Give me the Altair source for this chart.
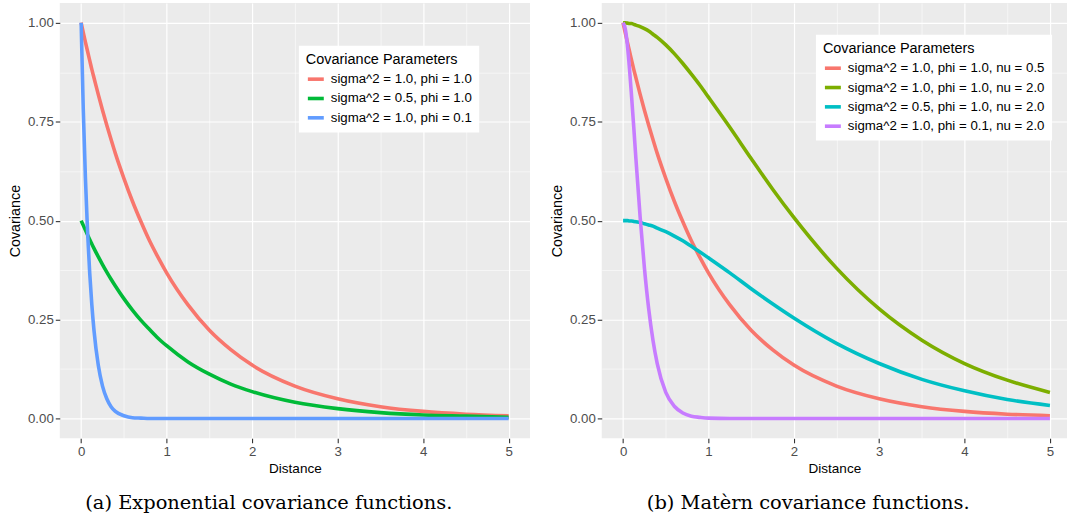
import altair as alt
import pandas as pd

distance = [0, 0.025, 0.05, 0.075, 0.1, 0.125, 0.15, 0.2, 0.25, 0.3, 0.35, 0.4,
            0.5, 0.6, 0.7, 0.8, 0.9, 1.0, 1.25, 1.5, 1.75, 2.0, 2.5, 3.0, 3.5,
            4.0, 4.5, 5.0]

# Exponential covariance panel
exp_labels = ["sigma^2 = 1.0, phi = 1.0",
              "sigma^2 = 0.5, phi = 1.0",
              "sigma^2 = 1.0, phi = 0.1"]
exp_colors = ["#F8766D", "#00BA38", "#619CFF"]
exp_s1_p1 = [1.000, 0.975, 0.951, 0.928, 0.905, 0.882, 0.861, 0.819, 0.779, 0.741,
             0.705, 0.670, 0.607, 0.549, 0.497, 0.449, 0.407, 0.368, 0.287, 0.223,
             0.174, 0.135, 0.082, 0.050, 0.030, 0.018, 0.011, 0.007]
exp_s05_p1 = [0.500, 0.488, 0.476, 0.464, 0.452, 0.441, 0.430, 0.409, 0.389, 0.370,
              0.352, 0.335, 0.303, 0.274, 0.248, 0.225, 0.203, 0.184, 0.143, 0.112,
              0.087, 0.068, 0.041, 0.025, 0.015, 0.009, 0.006, 0.003]
exp_s1_p01 = [1.000, 0.779, 0.607, 0.472, 0.368, 0.287, 0.223, 0.135, 0.082, 0.050,
              0.030, 0.018, 0.007, 0.002, 0.001, 0.000, 0.000, 0.000, 0.000, 0.000,
              0.000, 0.000, 0.000, 0.000, 0.000, 0.000, 0.000, 0.000]

# Matern covariance panel
mat_labels = ["sigma^2 = 1.0, phi = 1.0, nu = 0.5",
              "sigma^2 = 1.0, phi = 1.0, nu = 2.0",
              "sigma^2 = 0.5, phi = 1.0, nu = 2.0",
              "sigma^2 = 1.0, phi = 0.1, nu = 2.0"]
mat_colors = ["#F8766D", "#7CAE00", "#00BFC4", "#C77CFF"]
mat_s1_p1_n05 = exp_s1_p1
mat_s1_p1_n2 = [1.000, 1.000, 0.999, 0.998, 0.998, 0.996, 0.994, 0.990, 0.985, 0.979,
                0.971, 0.963, 0.944, 0.922, 0.897, 0.870, 0.842, 0.812, 0.736, 0.657,
                0.580, 0.508, 0.380, 0.277, 0.198, 0.139, 0.097, 0.066]
mat_s05_p1_n2 = [0.500, 0.500, 0.500, 0.499, 0.499, 0.498, 0.497, 0.495, 0.492, 0.489,
                 0.486, 0.481, 0.472, 0.461, 0.449, 0.435, 0.421, 0.406, 0.368, 0.328,
                 0.290, 0.254, 0.190, 0.139, 0.099, 0.070, 0.048, 0.033]
mat_s1_p01_n2 = [1.000, 0.985, 0.944, 0.884, 0.812, 0.736, 0.657, 0.508, 0.380, 0.277,
                 0.198, 0.139, 0.066, 0.031, 0.014, 0.006, 0.003, 0.001, 0.000, 0.000,
                 0.000, 0.000, 0.000, 0.000, 0.000, 0.000, 0.000, 0.000]

x_tick_values = [0, 0.5, 1, 1.5, 2, 2.5, 3, 3.5, 4, 4.5, 5]
y_tick_values = [0, 0.125, 0.25, 0.375, 0.5, 0.625, 0.75, 0.875, 1.0]

captions = ["(a)  Exponential covariance functions.",
            "(b)  Matèrn covariance functions."]


def long_frame(labels, series):
    rows = []
    for lab, vals in zip(labels, series):
        for d, v in zip(distance, vals):
            rows.append({"Distance": d, "Covariance": v, "Parameters": lab})
    return pd.DataFrame(rows)


df_exp = long_frame(exp_labels, [exp_s1_p1, exp_s05_p1, exp_s1_p01])
df_mat = long_frame(mat_labels, [mat_s1_p1_n05, mat_s1_p1_n2, mat_s05_p1_n2, mat_s1_p01_n2])

x_major = "abs(datum.value - round(datum.value)) < 0.001"
y_major = "abs(datum.value*4 - round(datum.value*4)) < 0.001"


def x_axis():
    return alt.Axis(
        values=x_tick_values,
        labelExpr="%s ? format(datum.value, 'd') : ''" % x_major,
        gridWidth={"condition": {"test": x_major, "value": 1.2}, "value": 0.55},
        tickOpacity={"condition": {"test": x_major, "value": 1}, "value": 0},
        labelOverlap=False, labelFlush=False, titlePadding=4,
        labelFontSize=13.3, titleFontSize=13.6,
    )


def y_axis():
    return alt.Axis(
        values=y_tick_values,
        labelExpr="%s ? format(datum.value, '.2f') : ''" % y_major,
        gridWidth={"condition": {"test": y_major, "value": 1.2}, "value": 0.55},
        tickOpacity={"condition": {"test": y_major, "value": 1}, "value": 0},
        labelOverlap=False, titlePadding=5,
        labelFontSize=13.3, titleFontSize=14.4,
    )


def panel(df, labels, colors, xdom, width, lx, ly, caption):
    return alt.Chart(df).mark_line(strokeWidth=3.6, interpolate="monotone").encode(
        x=alt.X("Distance:Q", title="Distance",
                scale=alt.Scale(domain=xdom, nice=False, zero=False), axis=x_axis()),
        y=alt.Y("Covariance:Q", title="Covariance",
                scale=alt.Scale(domain=[-0.05, 1.05], nice=False, zero=False), axis=y_axis()),
        color=alt.Color("Parameters:N", title="Covariance Parameters",
                        scale=alt.Scale(domain=labels, range=colors),
                        sort=labels,
                        legend=alt.Legend(orient="none", legendX=lx, legendY=ly)),
    ).properties(
        width=width, height=437,
        title=alt.TitleParams(caption, orient="bottom", anchor="middle", frame="bounds",
                              font="DejaVu Serif", fontSize=19.5, fontWeight="normal",
                              color="black", offset=19),
    )


left = panel(df_exp, exp_labels, exp_colors, [-0.25, 5.25], 472, 240, 43, captions[0])
right = panel(df_mat, mat_labels, mat_colors, [-0.25, 5.2], 467, 215, 32, captions[1])

chart = alt.hconcat(left, right, spacing=19).resolve_scale(
    x="independent", y="independent", color="independent"
).resolve_legend(color="independent").properties(
    padding={"left": 7, "top": 2, "right": 0, "bottom": 0},
    background="white",
).configure_view(
    fill="#EBEBEB", stroke=None
).configure_axis(
    labelFont="Liberation Sans", labelFontSize=13.3, labelColor="#4D4D4D", labelPadding=2,
    titleFont="Liberation Sans", titleFontSize=13.6, titleColor="black", titleFontWeight="normal",
    tickColor="#333333", tickSize=4.5, tickWidth=1.1, domain=False, gridColor="white",
).configure_legend(
    fillColor="white", padding=7, titleFont="Liberation Sans", titleFontSize=14.5,
    titleFontWeight="normal", titleColor="black", titlePadding=2,
    labelFont="Liberation Sans", labelFontSize=13.3, labelColor="black", labelLimit=0,
    symbolType="stroke", symbolSize=256, symbolStrokeWidth=3.6, rowPadding=1.4, labelOffset=5,
)

chart.save("out.html", embed_options={"renderer": "svg", "actions": False})
